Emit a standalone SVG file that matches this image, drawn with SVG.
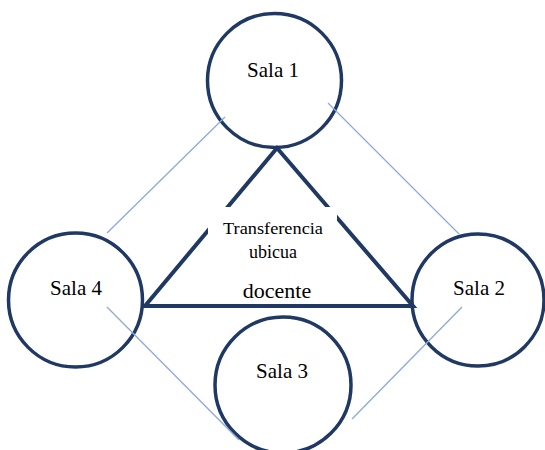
<svg xmlns="http://www.w3.org/2000/svg" width="545" height="450" viewBox="0 0 545 450">
<style>
.node{fill:#fff;stroke:#1f3864;stroke-width:3.5}
.lbl{font-family:"Liberation Serif",serif;font-size:21px;fill:#000;text-anchor:middle}
.thin{stroke:#8eaadb;stroke-width:1.3;fill:none}
.tri{stroke:#1f3864;stroke-width:4;fill:none;stroke-linejoin:miter}
.mid{font-family:"Liberation Serif",serif;fill:#000;text-anchor:middle}
</style>
<rect width="545" height="450" fill="#fff"/>
<g id="sala1"><circle class="node" cx="274.5" cy="80.5" r="67"/><text class="lbl" x="273" y="77">Sala 1</text></g>
<g id="sala4"><circle class="node" cx="75.5" cy="300" r="67"/><text class="lbl" x="76" y="295">Sala 4</text></g>
<g id="sala2"><circle class="node" cx="478" cy="300" r="66"/><text class="lbl" x="479" y="295">Sala 2</text></g>
<g id="sala3"><circle class="node" cx="283" cy="385" r="68"/><text class="lbl" x="282" y="378">Sala 3</text></g>
<g id="connectors">
<line class="thin" x1="225" y1="117" x2="107" y2="233"/>
<line class="thin" x1="328" y1="103" x2="459" y2="234"/>
<line class="thin" x1="107" y1="307" x2="239" y2="440"/>
<line class="thin" x1="462" y1="307" x2="352" y2="419"/>
<path class="tri" d="M277,148 L145,306 L413,306 Z"/>
</g>
<g id="centro">
<rect x="208" y="207" width="129" height="55" fill="#fff"/>
<text class="mid" x="273" y="234" font-size="17" textLength="100" lengthAdjust="spacingAndGlyphs">Transferencia</text>
<text class="mid" x="273" y="258" font-size="18">ubicua</text>
<text class="mid" x="277" y="298" font-size="22">docente</text>
</g>
</svg>
